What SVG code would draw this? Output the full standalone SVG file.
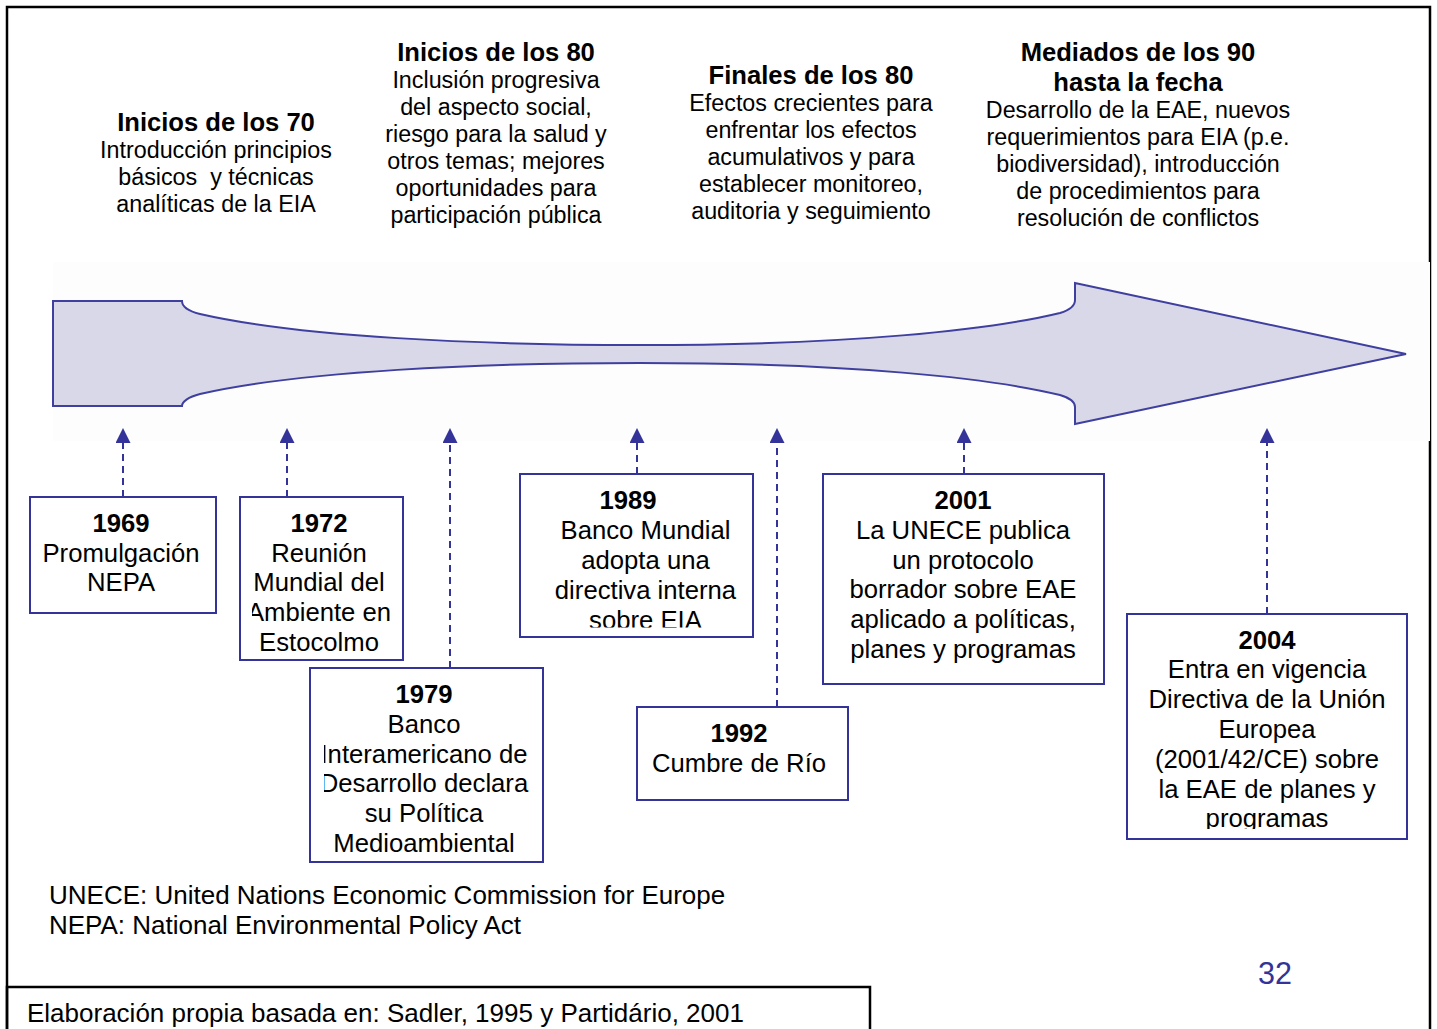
<svg xmlns="http://www.w3.org/2000/svg" width="1437" height="1029" viewBox="0 0 1437 1029">
<style>
text{font-family:"Liberation Sans",Arial,sans-serif;fill:#000}
.h{font-size:25.6px;font-weight:bold;text-anchor:middle}
.b{font-size:23.3px;text-anchor:middle}
.bx{fill:#fff;stroke:#333399;stroke-width:2}
.t{font-size:25.7px;text-anchor:middle}
.y{font-size:25.7px;font-weight:bold;text-anchor:middle}
.n{font-size:26px}
.c{stroke:#333399;stroke-width:2;stroke-dasharray:7 5;fill:none;marker-end:url(#ah)}
</style>
<defs>
<marker id="ah" viewBox="0 0 15 15" refX="0" refY="7.5" markerWidth="15" markerHeight="15" markerUnits="userSpaceOnUse" orient="auto">
<path d="M0,0 L15,7.5 L0,15 Z" fill="#333399"/>
</marker>
<clipPath id="c1972"><rect x="252" y="500" width="140" height="158"/></clipPath>
<clipPath id="c1979"><rect x="324" y="671" width="206" height="189"/></clipPath>
<clipPath id="c1989"><rect x="522" y="476" width="229" height="151.5"/></clipPath>
<clipPath id="c2004"><rect x="1129" y="616" width="276" height="213"/></clipPath>
</defs>
<rect width="1437" height="1029" fill="#fff"/>
<g id="frame" fill="none" stroke="#000" stroke-width="2.5">
<path d="M7,1029 L7,7 L1430,7 L1430,1029"/>
<path d="M7,1029 L7,987 L870,987 L870,1029"/>
</g>
<rect x="53" y="262" width="1377" height="179" fill="#fdfdfe"/>
<g id="timeline-arrow">
<path d="M53,301 L182,301 C182,306 188,311 200,314 C300,337 480,345 640,345 C850,345 990,330 1060,313 C1070,310 1075,305 1075,300 L1075,283 L1406,354 L1075,424 L1075,407 C1075,402 1070,398 1060,395 C990,378 850,363 640,363 C480,363 300,371 200,394 C188,397 182,402 182,406 L53,406 Z" fill="#d9d8e8" stroke="#3f3f9f" stroke-width="2"/>
</g>
<g id="period-70">
<text class="h" x="216" y="131">Inicios de los 70</text>
<text class="b" x="216" y="158">Introducción principios</text>
<text class="b" x="216" y="185" xml:space="preserve">básicos  y técnicas</text>
<text class="b" x="216" y="212">analíticas de la EIA</text>
</g>
<g id="period-80a">
<text class="h" x="496" y="61">Inicios de los 80</text>
<text class="b" x="496" y="88">Inclusión progresiva</text>
<text class="b" x="496" y="115">del aspecto social,</text>
<text class="b" x="496" y="142">riesgo para la salud y</text>
<text class="b" x="496" y="169">otros temas; mejores</text>
<text class="b" x="496" y="196">oportunidades para</text>
<text class="b" x="496" y="223">participación pública</text>
</g>
<g id="period-80b">
<text class="h" x="811" y="84">Finales de los 80</text>
<text class="b" x="811" y="111">Efectos crecientes para</text>
<text class="b" x="811" y="138">enfrentar los efectos</text>
<text class="b" x="811" y="165">acumulativos y para</text>
<text class="b" x="811" y="192">establecer monitoreo,</text>
<text class="b" x="811" y="219">auditoria y seguimiento</text>
</g>
<g id="period-90">
<text class="h" x="1138" y="61">Mediados de los 90</text>
<text class="h" x="1138" y="91">hasta la fecha</text>
<text class="b" x="1138" y="118">Desarrollo de la EAE, nuevos</text>
<text class="b" x="1138" y="145">requerimientos para EIA (p.e.</text>
<text class="b" x="1138" y="172">biodiversidad), introducción</text>
<text class="b" x="1138" y="199">de procedimientos para</text>
<text class="b" x="1138" y="226">resolución de conflictos</text>
</g>
<g id="connectors">
<line class="c" x1="123" y1="497" x2="123" y2="443"/>
<line class="c" x1="287" y1="497" x2="287" y2="443"/>
<line class="c" x1="450" y1="668" x2="450" y2="443"/>
<line class="c" x1="637" y1="474" x2="637" y2="443"/>
<line class="c" x1="777" y1="707" x2="777" y2="443"/>
<line class="c" x1="964" y1="474" x2="964" y2="443"/>
<line class="c" x1="1267" y1="614" x2="1267" y2="443"/>
</g>
<g id="e1969">
<rect class="bx" x="30" y="497" width="186" height="116"/>
<text class="y" x="121" y="532">1969</text>
<text class="t" x="121" y="562">Promulgación</text>
<text class="t" x="121" y="591">NEPA</text>
</g>
<g id="e1972">
<rect class="bx" x="240" y="497" width="163" height="163"/>
<g clip-path="url(#c1972)">
<text class="y" x="319" y="532">1972</text>
<text class="t" x="319" y="562">Reunión</text>
<text class="t" x="319" y="591">Mundial del</text>
<text class="t" x="319" y="621">Ambiente en</text>
<text class="t" x="319" y="651">Estocolmo</text>
</g>
</g>
<g id="e1979">
<rect class="bx" x="310" y="668" width="233" height="194"/>
<g clip-path="url(#c1979)">
<text class="y" x="424" y="703">1979</text>
<text class="t" x="424" y="733">Banco</text>
<text class="t" x="424" y="763">Interamericano de</text>
<text class="t" x="424" y="792">Desarrollo declara</text>
<text class="t" x="424" y="822">su Política</text>
<text class="t" x="424" y="852">Medioambiental</text>
</g>
</g>
<g id="e1989">
<rect class="bx" x="520" y="474" width="233" height="163"/>
<g clip-path="url(#c1989)">
<text class="y" x="628" y="509">1989</text>
<text class="t" x="645.5" y="539">Banco Mundial</text>
<text class="t" x="645.5" y="569">adopta una</text>
<text class="t" x="645.5" y="598.5">directiva interna</text>
<text class="t" x="645.5" y="628.5">sobre EIA</text>
</g>
</g>
<g id="e1992">
<rect class="bx" x="637" y="707" width="211" height="93"/>
<text class="y" x="739" y="742">1992</text>
<text class="t" x="739" y="772">Cumbre de Río</text>
</g>
<g id="e2001">
<rect class="bx" x="823" y="474" width="281" height="210"/>
<text class="y" x="963" y="509">2001</text>
<text class="t" x="963" y="539">La UNECE publica</text>
<text class="t" x="963" y="569">un protocolo</text>
<text class="t" x="963" y="598">borrador sobre EAE</text>
<text class="t" x="963" y="628">aplicado a políticas,</text>
<text class="t" x="963" y="658">planes y programas</text>
</g>
<g id="e2004">
<rect class="bx" x="1127" y="614" width="280" height="225"/>
<g clip-path="url(#c2004)">
<text class="y" x="1267" y="649">2004</text>
<text class="t" x="1267" y="678">Entra en vigencia</text>
<text class="t" x="1267" y="708">Directiva de la Unión</text>
<text class="t" x="1267" y="738">Europea</text>
<text class="t" x="1267" y="768">(2001/42/CE) sobre</text>
<text class="t" x="1267" y="798">la EAE de planes y</text>
<text class="t" x="1267" y="827">programas</text>
</g>
</g>
<g id="notes">
<text class="n" x="49" y="904">UNECE: United Nations Economic Commission for Europe</text>
<text class="n" x="49" y="934">NEPA: National Environmental Policy Act</text>
<text x="1258" y="984" style="font-size:30.5px;fill:#333399">32</text>
<text class="n" x="27" y="1022">Elaboración propia basada en: Sadler, 1995 y Partidário, 2001</text>
</g>
</svg>
